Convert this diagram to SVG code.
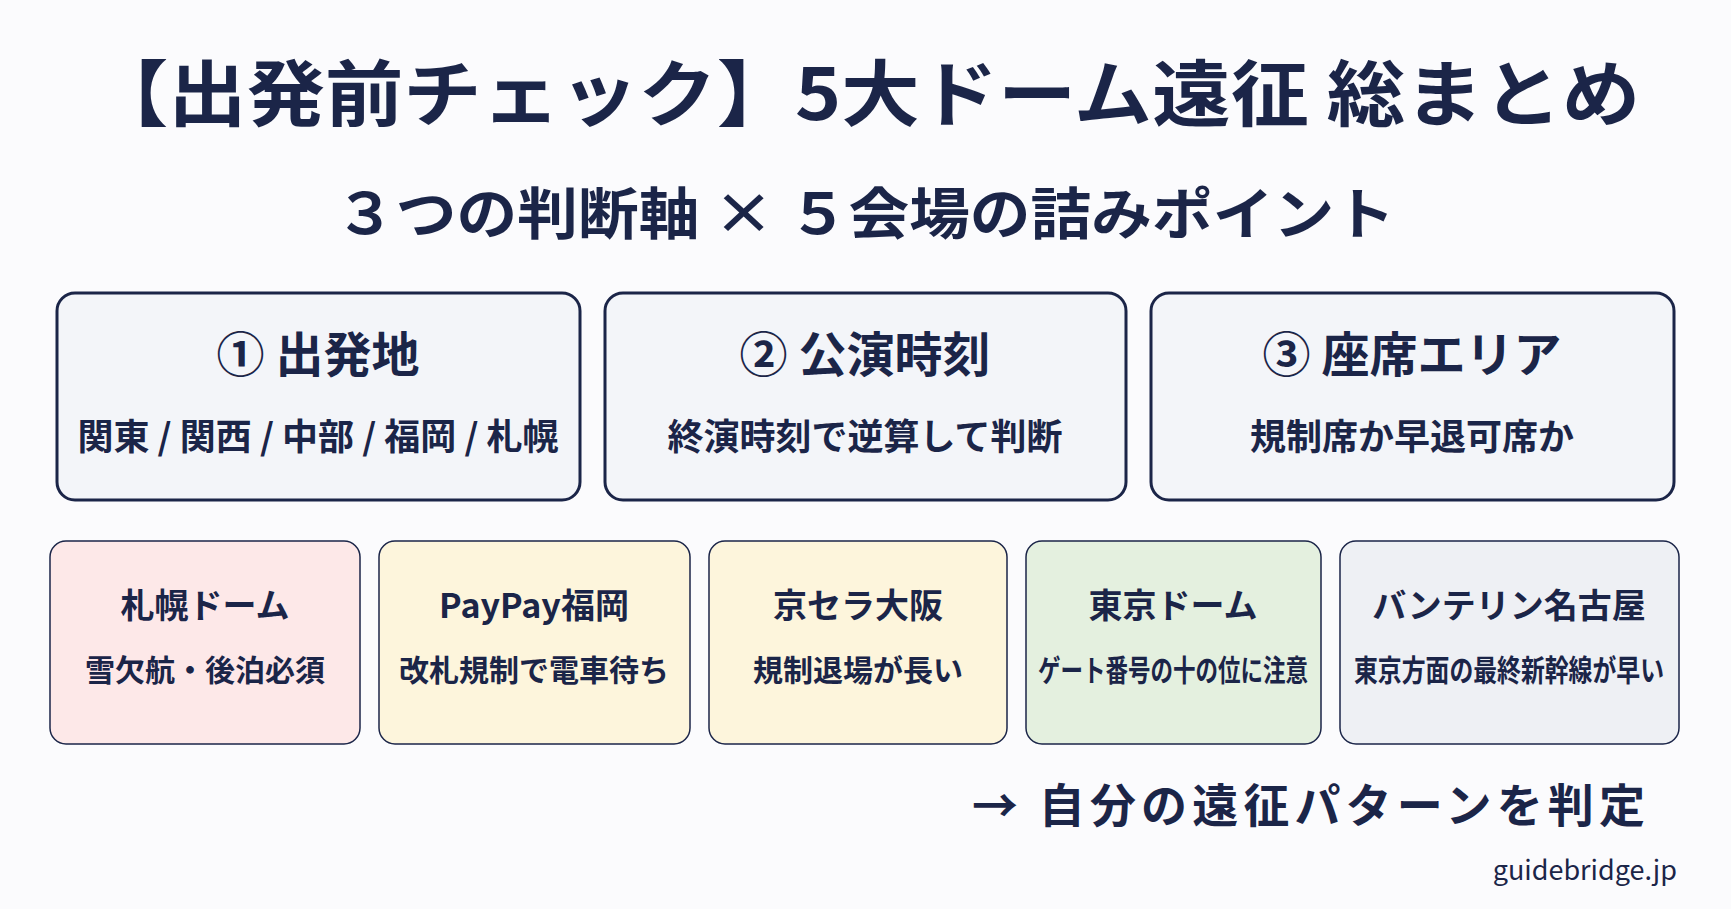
<svg xmlns="http://www.w3.org/2000/svg" width="1731" height="909" viewBox="0 0 1731 909">
<style>
text{font-family:"Noto Sans CJK JP","Noto Sans",sans-serif;font-weight:700;fill:#1b2548;text-anchor:middle}
.box{stroke:#1b2548;stroke-width:3}
.sb{stroke:#1b2548;stroke-width:1.5}
.t1{font-size:48px}.s1{font-size:36px}.t2{font-size:34px}.s2{font-size:30px}
</style>
<rect width="1731" height="909" fill="#fbfbfd"/>
<text x="865" y="120" font-size="72" textLength="1550" lengthAdjust="spacingAndGlyphs">【出発前チェック】5大ドーム遠征 総まとめ</text>
<text x="865" y="234" font-size="56" textLength="1060" lengthAdjust="spacingAndGlyphs">３つの判断軸 × ５会場の詰みポイント</text>
<g id="axis1"><rect class="box" x="57" y="293" width="523" height="207" rx="18" fill="#f3f5f9"/><text class="t1" x="318" y="372">① 出発地</text><text class="s1" x="318" y="450">関東 / 関西 / 中部 / 福岡 / 札幌</text></g>
<g id="axis2"><rect class="box" x="605" y="293" width="521" height="207" rx="18" fill="#f3f5f9"/><text class="t1" x="865" y="372">② 公演時刻</text><text class="s1" x="865" y="450">終演時刻で逆算して判断</text></g>
<g id="axis3"><rect class="box" x="1151" y="293" width="523" height="207" rx="18" fill="#f3f5f9"/><text class="t1" x="1412" y="372">③ 座席エリア</text><text class="s1" x="1412" y="450">規制席か早退可席か</text></g>
<g id="sapporo"><rect class="sb" x="50" y="541" width="310" height="203" rx="16" fill="#fde8e8"/><text class="t2" x="205" y="618">札幌ドーム</text><text class="s2" x="205" y="681">雪欠航・後泊必須</text></g>
<g id="fukuoka"><rect class="sb" x="379" y="541" width="311" height="203" rx="16" fill="#fdf5dc"/><text class="t2" x="534" y="618">PayPay福岡</text><text class="s2" x="534" y="681">改札規制で電車待ち</text></g>
<g id="osaka"><rect class="sb" x="709" y="541" width="298" height="203" rx="16" fill="#fdf5dc"/><text class="t2" x="858" y="618">京セラ大阪</text><text class="s2" x="858" y="681">規制退場が長い</text></g>
<g id="tokyo"><rect class="sb" x="1026" y="541" width="295" height="203" rx="16" fill="#e4f0df"/><text class="t2" x="1173" y="618">東京ドーム</text><text class="s2" x="1173" y="681" textLength="270" lengthAdjust="spacingAndGlyphs">ゲート番号の十の位に注意</text></g>
<g id="nagoya"><rect class="sb" x="1340" y="541" width="339" height="203" rx="16" fill="#eef0f4"/><text class="t2" x="1509" y="618">バンテリン名古屋</text><text class="s2" x="1509" y="681" textLength="310" lengthAdjust="spacingAndGlyphs">東京方面の最終新幹線が早い</text></g>
<g id="connectors"></g>
<text x="1645" y="822" font-size="46" style="text-anchor:end" textLength="673" lengthAdjust="spacing">→ 自分の遠征パターンを判定</text>
<text x="1677" y="880" font-size="27" style="text-anchor:end;font-weight:400">guidebridge.jp</text>
</svg>
